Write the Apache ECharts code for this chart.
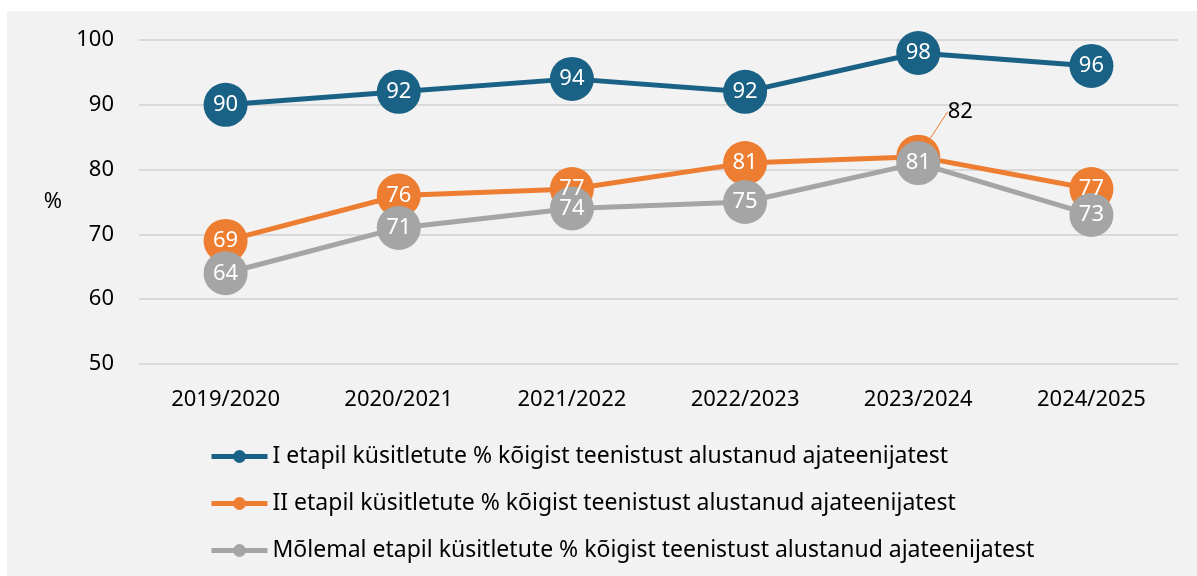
<!DOCTYPE html>
<html>
<head>
<meta charset="utf-8">
<script src="https://cdn.jsdelivr.net/npm/echarts@6/dist/echarts.min.js"></script>
<style>
  html, body { margin: 0; padding: 0; background: #fff; }
  #chart { position: absolute; left: 7px; top: 11px; width: 1190px; height: 565px; background: #f2f2f2; }
</style>
</head>
<body>
<div id="chart"></div>
<script>
// school years on the x axis
const years = ['2019/2020', '2020/2021', '2021/2022', '2022/2023', '2023/2024', '2024/2025'];

// % of conscripts surveyed
const stage1 = [90, 92, 94, 92, 98, 96];
const stage2 = [69, 76, 77, 81, 82, 77];
const both = [64, 71, 74, 75, 81, 73];

const names = [
  'I etapil küsitletute % kõigist teenistust alustanud ajateenijatest',
  'II etapil küsitletute % kõigist teenistust alustanud ajateenijatest',
  'Mõlemal etapil küsitletute % kõigist teenistust alustanud ajateenijatest'
];
const colors = ['#1a6186', '#ed7d31', '#a5a5a5'];

const font = '"Noto Sans", "Open Sans", sans-serif';
const fs = 22;

function makeSeries(i, values) {
  return {
    name: names[i],
    type: 'line',
    data: values.map(function (v, j) {
      // the orange 2023/2024 point is hidden behind grey, its label is pulled out
      if (i === 1 && j === 4) {
        return {
          value: v,
          label: { color: '#000' },
          labelLine: { show: true, lineStyle: { color: colors[1], width: 1 } }
        };
      }
      return v;
    }),
    symbol: 'circle',
    symbolSize: 44,
    lineStyle: { width: 5, color: colors[i] },
    itemStyle: { color: colors[i] },
    label: {
      show: true,
      position: 'inside',
      color: '#fff',
      fontSize: fs,
      fontFamily: font
    },
    labelLayout: function (p) {
      if (i === 1 && p.dataIndex === 4) {
        return { dx: 42, dy: -45 };
      }
    },
    emphasis: { disabled: true },
    animation: false
  };
}

const chart = echarts.init(document.getElementById('chart'), null, { renderer: 'canvas' });
chart.setOption({
  textStyle: { fontFamily: font },
  color: colors,
  grid: { left: 132, right: 19, top: 29, bottom: 212 },
  xAxis: {
    type: 'category',
    data: years,
    axisLine: { show: false },
    axisTick: { show: false },
    axisLabel: { color: '#000', fontSize: fs, margin: 25 }
  },
  yAxis: {
    type: 'value',
    min: 50,
    max: 100,
    interval: 10,
    name: '%',
    nameLocation: 'middle',
    nameRotate: 0,
    nameGap: 77,
    nameTextStyle: { color: '#000', fontSize: fs, padding: [6, 0, 0, 0] },
    axisLabel: { color: '#000', fontSize: fs, margin: 25 },
    splitLine: { lineStyle: { color: '#d9d9d9', width: 2 } }
  },
  legend: {
    orient: 'vertical',
    left: 197,
    top: 429,
    itemWidth: 56,
    itemHeight: 16,
    itemGap: 24,
    lineStyle: { width: 5 },
    textStyle: { color: '#000', fontSize: 23 },
    data: names
  },
  series: [makeSeries(0, stage1), makeSeries(1, stage2), makeSeries(2, both)]
});
</script>
</body>
</html>
